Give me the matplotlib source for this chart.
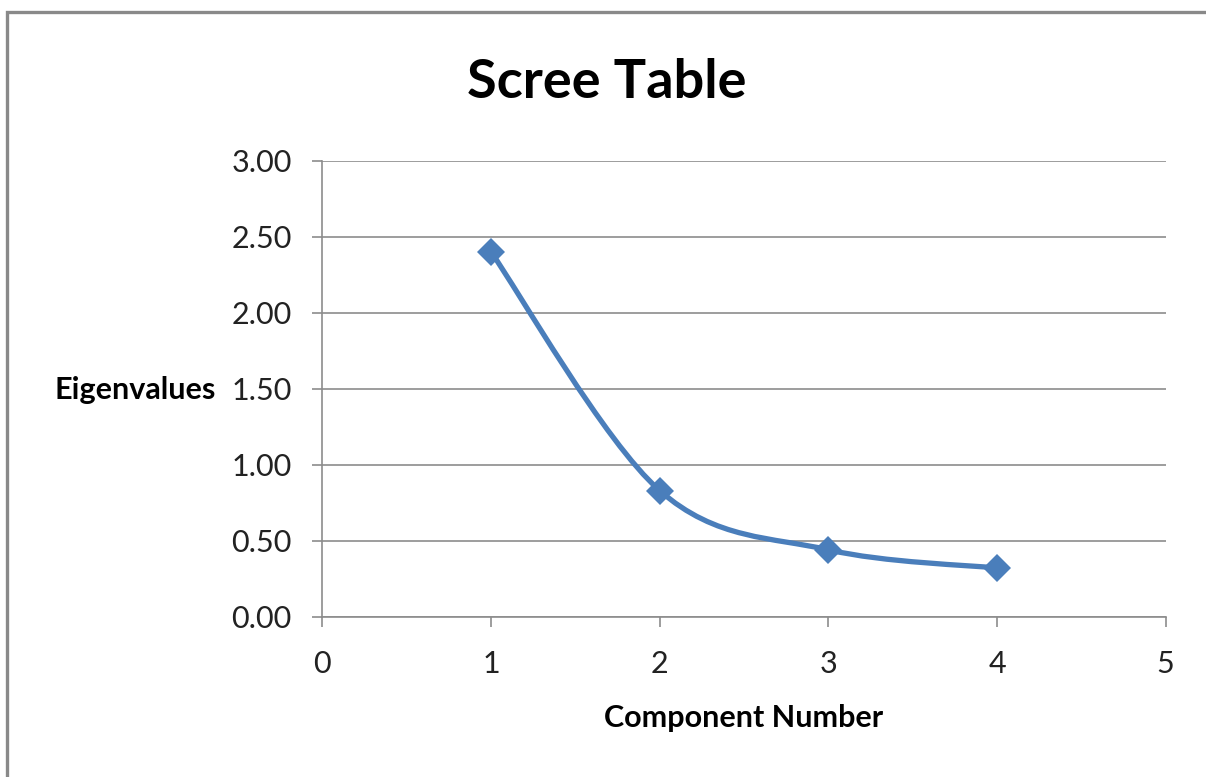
import numpy as np
import matplotlib
matplotlib.use("Agg")
import matplotlib.pyplot as plt
from matplotlib.path import Path
from matplotlib.patches import PathPatch, Rectangle

# Scree data
components = [1, 2, 3, 4]
eigenvalues = [2.40, 0.83, 0.44, 0.32]
x_ticks = [0, 1, 2, 3, 4, 5]
y_ticks = [0.0, 0.5, 1.0, 1.5, 2.0, 2.5, 3.0]
title = "Scree Table"
x_label = "Component Number"
y_label = "Eigenvalues"

W, H = 1206, 777
fig = plt.figure(figsize=(W / 100, H / 100), dpi=100)
plt.rcParams["font.family"] = ["Lato", "DejaVu Sans"]

# outer chart frame (extends past right and bottom edges)
fig.patches.append(Rectangle((6.5 / W, -0.05), 1.2, 1 - 11.5 / H + 0.05,
                             transform=fig.transFigure, fill=False,
                             edgecolor="#898989", linewidth=2.4))

left, right = 322.3 / W, 1165.7 / W
top, bottom = 1 - 160.7 / H, 1 - 616.7 / H
ax = fig.add_axes([left, bottom, right - left, top - bottom])
ax.set_xlim(0, 5)
ax.set_ylim(0, 3)

grid_c = "#8c8c8c"
for s in ["top", "right"]:
    ax.spines[s].set_visible(False)
for s in ["left", "bottom"]:
    ax.spines[s].set_color(grid_c)
    ax.spines[s].set_linewidth(1.2)
ax.set_xticks(x_ticks)
ax.set_yticks(y_ticks)
ax.set_yticklabels([f"{v:.2f}" for v in y_ticks])
ax.tick_params(axis="both", direction="out", length=7, width=1.2,
               color=grid_c, labelsize=22, labelcolor="#222222")
ax.tick_params(axis="y", pad=15)
ax.tick_params(axis="x", pad=17)
ax.yaxis.grid(True, color=grid_c, linewidth=1.2)
ax.set_axisbelow(True)

# smoothed line (Catmull-Rom style cubic Bezier through the points)
pts = np.column_stack([components, eigenvalues]).astype(float)
n = len(pts)
verts = [pts[0]]
codes = [Path.MOVETO]
for i in range(n - 1):
    p0 = pts[max(i - 1, 0)]
    p1 = pts[i]
    p2 = pts[i + 1]
    p3 = pts[min(i + 2, n - 1)]
    c1 = p1 + (p2 - p0) / 6.0
    c2 = p2 - (p3 - p1) / 6.0
    verts += [c1, c2, p2]
    codes += [Path.CURVE4] * 3
line_c = "#4a7ebb"
ax.add_patch(PathPatch(Path(verts, codes), facecolor="none",
                       edgecolor=line_c, linewidth=3.8, capstyle="round",
                       zorder=3))
ax.plot(components, eigenvalues, linestyle="none", marker="D",
        markersize=14, color=line_c, markeredgewidth=0, zorder=4)

fig.text(607 / W, 1 - 82 / H, title, ha="center", va="center",
         fontsize=39, fontweight="bold", color="black")
fig.text(135 / W, 1 - 390 / H, y_label, ha="center", va="center",
         fontsize=22, fontweight="bold", color="black")
fig.text(744 / W, 1 - 718 / H, x_label, ha="center", va="center",
         fontsize=22, fontweight="bold", color="black")

fig.savefig("out.png", dpi=100)
